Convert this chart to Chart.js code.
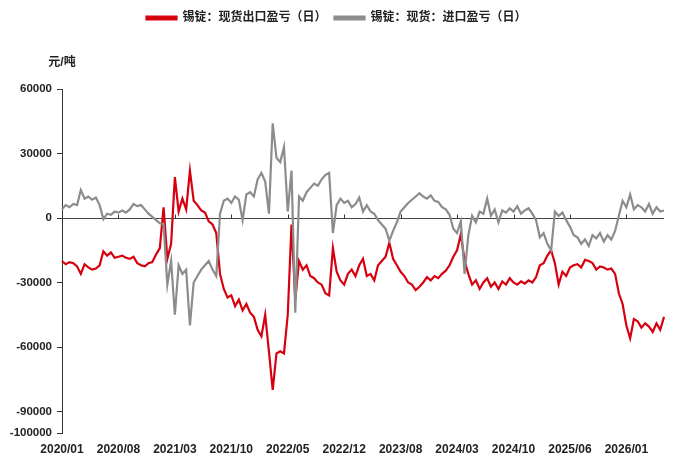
<!DOCTYPE html>
<html>
<head>
<meta charset="utf-8">
<script src="https://cdn.jsdelivr.net/npm/chart.js@4.4.1/dist/chart.umd.min.js"></script>
<style>
  html, body { margin: 0; padding: 0; background: #ffffff; }
  #wrap { width: 673px; height: 455px; }
</style>
</head>
<body>
<div id="wrap"><canvas id="tinChart"></canvas></div>
<script>
// x-axis labels, one every labelStep points
const tickLabels = ['2020/01', '2020/08', '2021/03', '2021/10', '2022/05', '2022/12',
    '2023/08', '2024/03', '2024/10', '2025/06', '2026/01'];
const labelStep = 15;

// 锡锭：现货出口盈亏（日）, 元/吨
const exportPL = [
    -20000, -21500, -20500, -21000, -22500, -26000, -21500, -23000, -24000, -23500, -22000, -15500, -17500, -16000, -18500,
    -18000, -17500, -18500, -19000, -18000, -21000, -22000, -22500, -21000, -20500, -17000, -14000, 5000, -19000, -12000,
    19000, 3000, 9000, 4000, 22000, 8000, 6000, 3500, 2500, -1500, -3000, -7000, -26000, -33000, -37000,
    -36000, -41000, -38000, -43000, -40000, -44000, -46000, -52000, -55000, -45000, -62000, -80000, -63000, -62000, -63000,
    -45000, -3000, -38000, -20000, -24000, -22000, -27000, -28000, -30000, -31000, -35000, -36000, -14000, -25000, -29000,
    -31000, -26000, -24000, -27000, -22000, -19000, -27000, -26000, -29000, -22000, -20000, -18000, -11500, -19000, -22000,
    -25000, -27000, -30000, -31000, -33500, -32000, -30000, -27500, -29000, -27000, -28000, -26000, -24500, -22000, -18000,
    -15000, -7500, -20000, -26000, -31000, -29000, -33000, -30000, -28000, -32000, -30000, -33000, -29500, -31000, -28000,
    -30000, -31000, -29500, -30500, -29000, -30000, -27500, -22000, -21000, -17500, -15000, -21000, -31000, -25000, -27000,
    -23000, -22000, -21500, -23000, -19500, -20000, -21000, -24000, -22500, -23000, -24000, -23500, -26000, -35000, -40000,
    -50000, -56000, -47000, -48000, -51000, -49000, -50500, -53000, -49000, -52000, -46000
];

// 锡锭：现货：进口盈亏（日）, 元/吨
const importPL = [
    4000, 6000, 5000, 6500, 6000, 13000, 9000, 10000, 8500, 9500, 6000, -500, 2000, 1500, 3000,
    2500, 3500, 2500, 4000, 6500, 5500, 6000, 4000, 2000, 500, -1000, -2500, -3000, -31000, -20000,
    -45000, -22000, -26000, -24000, -50000, -30000, -27000, -24000, -22000, -20000, -24000, -27000, 2000, 8000, 9000,
    7000, 10000, 8500, -1000, 11000, 12000, 10000, 18000, 21000, 17000, 2000, 44000, 28000, 26000, 33000,
    3000, 22000, -44000, 10000, 8000, 12000, 14000, 16000, 15000, 18000, 20000, 21000, -7000, 6000, 9000,
    7000, 8000, 5000, 6500, 9500, 3000, 6000, 3000, 2000, -1000, -3000, -5000, -10500, -6000, -2000,
    3000, 5000, 7000, 8500, 10000, 11500, 10000, 9000, 10500, 8000, 7500, 5000, 4000, 1500, -5000,
    -7000, -1500, -26000, -8000, 1000, -2000, 3000, 2000, 9000, 1000, 4000, -2000, 3500, 2500, 4500,
    3000, 5500, 2000, 3500, 4500, 2000, -1000, -9000, -7000, -12000, -15000, 3000, 1000, 2500, -1000,
    -4000, -8000, -9000, -12000, -10000, -13000, -8000, -9500, -7000, -11000, -8000, -10000, -6000, 1000, 8000,
    5000, 11000, 4000, 6000, 5000, 3000, 6500, 2000, 5000, 3000, 3500
];

const yTicks = [60000, 30000, 0, -30000, -60000, -90000, -100000];

const labels = exportPL.map((v, i) => i % labelStep === 0 ? (tickLabels[i / labelStep] || '') : '');

const numFont = '"Liberation Sans", Arial, sans-serif';
const cjkFont = '"Liberation Sans", "Noto Sans CJK SC", sans-serif';

// legend needs extra room below it
const legendSpace = {
    id: 'legendSpace',
    beforeInit(chart) {
        const fit = chart.legend.fit;
        chart.legend.fit = function () {
            fit.bind(chart.legend)();
            this.height += 55;
        };
    }
};

// unit text and the little marks on the zero line
const extras = {
    id: 'extras',
    beforeDatasetsDraw(chart) {
        const ctx = chart.ctx;
        const xs = chart.scales.x;
        const y0 = Math.round(chart.scales.y.getPixelForValue(0)) + 0.5;
        ctx.save();
        ctx.strokeStyle = '#333';
        ctx.lineWidth = 1;
        ctx.beginPath();
        tickLabels.forEach((t, k) => {
            if (k === 0) return;
            const px = Math.round(xs.getPixelForValue(k * labelStep)) + 0.5;
            ctx.moveTo(px, y0);
            ctx.lineTo(px, y0 - 4);
        });
        ctx.stroke();
        ctx.font = 'bold 12px ' + cjkFont;
        ctx.fillStyle = '#222';
        ctx.textAlign = 'center';
        ctx.textBaseline = 'middle';
        ctx.fillText('元/吨', chart.chartArea.left, chart.chartArea.top - 26);
        ctx.restore();
    }
};

new Chart(document.getElementById('tinChart'), {
    type: 'line',
    data: {
        labels: labels,
        datasets: [
            {
                label: '锡锭：现货出口盈亏（日）',
                data: exportPL,
                borderColor: '#d7000f',
                backgroundColor: '#d7000f',
                borderWidth: 2.2,
                pointRadius: 0,
                tension: 0,
                order: 2
            },
            {
                label: '锡锭：现货：进口盈亏（日）',
                data: importPL,
                borderColor: '#8c8c8c',
                backgroundColor: '#8c8c8c',
                borderWidth: 2.2,
                pointRadius: 0,
                tension: 0,
                order: 1
            }
        ]
    },
    options: {
        responsive: true,
        maintainAspectRatio: false,
        animation: false,
        layout: { padding: { left: 0, right: 0, top: 4, bottom: 0 } },
        plugins: {
            tooltip: { enabled: false },
            legend: {
                position: 'top',
                labels: {
                    color: '#222',
                    font: { family: cjkFont, size: 12, weight: 'bold' },
                    boxWidth: 30,
                    boxHeight: 3,
                    padding: 8,
                    sort: (a, b) => a.datasetIndex - b.datasetIndex
                }
            }
        },
        scales: {
            x: {
                type: 'category',
                grid: { display: false, drawTicks: false },
                border: { display: false },
                ticks: {
                    autoSkip: false,
                    maxRotation: 0,
                    minRotation: 0,
                    padding: 9,
                    color: '#222',
                    font: { family: numFont, size: 12, weight: 'bold' }
                },
                afterFit(scale) { scale.height = 22; }
            },
            y: {
                min: -100000,
                max: 60000,
                afterBuildTicks(scale) { scale.ticks = yTicks.map(v => ({ value: v })); },
                grid: {
                    color: ctx => ctx.tick && ctx.tick.value === 0 ? '#444' : 'rgba(0,0,0,0)',
                    tickColor: '#333',
                    tickLength: 5
                },
                border: { display: true, color: '#333', width: 1 },
                ticks: {
                    padding: 5,
                    color: '#222',
                    font: { family: numFont, size: 11.5, weight: 'bold' },
                    callback: v => String(v)
                },
                afterFit(scale) { scale.width = 62; }
            }
        }
    },
    plugins: [legendSpace, extras]
});
</script>
</body>
</html>
